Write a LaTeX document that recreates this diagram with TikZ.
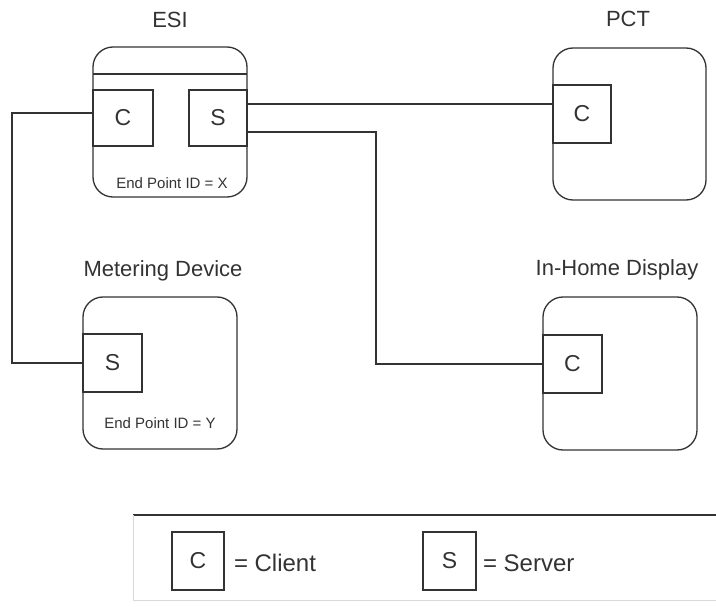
\documentclass[tikz,border=0pt]{standalone}
\usepackage{fontspec}
\setmainfont{Liberation Sans}
\usetikzlibrary{calc}
\definecolor{ink}{HTML}{333333}
\begin{document}
\begin{tikzpicture}[x=1pt,y=-1pt,
  every node/.style={inner sep=0pt,outer sep=0pt,text=ink},
  device/.style={draw=ink,line width=1.3pt,rounded corners=20pt,minimum width=#1},
  port/.style={draw=ink,line width=1.3pt,font=\fontsize{23}{26}\selectfont},
  title/.style={font=\fontsize{22}{26}\selectfont},
  epid/.style={font=\fontsize{15}{18}\selectfont},
  legtext/.style={font=\fontsize{24}{28}\selectfont,anchor=west},
  wire/.style={draw=ink,line width=1.3pt}]
\useasboundingbox (0,0) rectangle (716,607);
% ESI
\node[device=154pt,minimum height=150pt] (esi) at (170,122) {};
\node[title] (esiT) at (170,20) {ESI};
\draw[wire] (esi.west |- 0,74) -- (esi.east |- 0,74);
\node[port,minimum width=60pt,minimum height=56pt] (esiC) at (123,118) {C};
\node[port,minimum width=58pt,minimum height=56pt] (esiS) at (218,118) {S};
\node[epid] (esiE) at (172,183) {End Point ID = X};
% PCT
\node[device=153pt,minimum height=152pt] (pct) at (629.5,124) {};
\node[title] (pctT) at (628,19) {PCT};
\node[port,minimum width=58pt,minimum height=58pt] (pctC) at (582,114) {C};
% Metering
\node[device=154pt,minimum height=152pt] (met) at (160,373) {};
\node[title] (metT) at (163,271) {Metering Device};
\node[port,minimum width=59pt,minimum height=58pt] (metS) at (112.5,363) {S};
\node[epid] (metE) at (160,423) {End Point ID = Y};
% IHD
\node[device=154pt,minimum height=153pt] (ihd) at (620,373.5) {};
\node[title] (ihdT) at (617,270) {In-Home Display};
\node[port,minimum width=59pt,minimum height=58pt] (ihdC) at (572.5,364) {C};
% connectors
\coordinate (s1) at ($(esiS.north east)!0.25!(esiS.south east)$);
\coordinate (s2) at ($(esiS.north east)!0.75!(esiS.south east)$);
\coordinate (c1) at ($(esiC.north west)!0.41!(esiC.south west)$);
\coordinate (lx) at (12,0);
\coordinate (bx) at (376,0);
\draw[wire] (s1) -- (s1 -| pctC.west);
\draw[wire] (s2) -- (s2 -| bx) |- (ihdC.west);
\draw[wire] (c1) -- (c1 -| lx) |- (metS.west);
% legend
\coordinate (lg1) at (133,515);
\coordinate (lg2) at (716,515);
\coordinate (lg3) at (133,600);
\coordinate (lg4) at (716,600);
\draw[ink,line width=1.3pt] (lg1) -- (lg2);
\draw[black!15,line width=0.8pt] (lg1) -- (lg3) -- (lg4);
\node[port,minimum width=52pt,minimum height=58pt] (legC) at (198,561) {C};
\node[legtext] (legCt) at (234,563) {= Client};
\node[port,minimum width=53pt,minimum height=58pt] (legS) at (449.5,561) {S};
\node[legtext] (legSt) at (483,563) {= Server};
\end{tikzpicture}
\end{document}
